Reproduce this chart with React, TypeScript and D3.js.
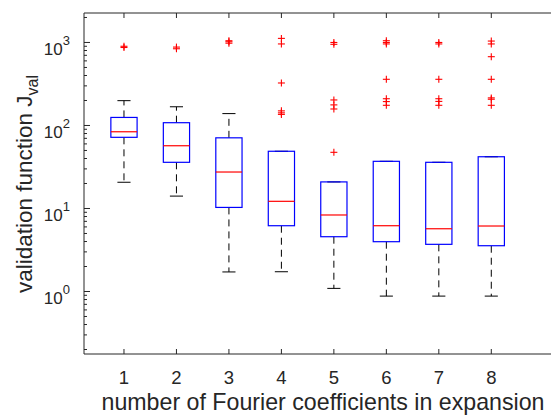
import React from "react";
import * as d3 from "d3";

const groups = [1, 2, 3, 4, 5, 6, 7, 8];
const whiskerHigh = [199, 168, 139, 48.9, 20.9, 37, 36, 42];
const q3 = [125, 108, 71, 48.9, 20.9, 37, 36, 42];
const medians = [84, 57, 27.5, 12.2, 8.35, 6.2, 5.7, 6.15];
const q1 = [72, 36, 10.3, 6.2, 4.57, 3.98, 3.7, 3.56];
const whiskerLow = [20.7, 14.1, 1.72, 1.73, 1.09, 0.88, 0.88, 0.88];
const outliers = [
  [870, 900],
  [840, 880],
  [980, 1020, 1050],
  [960, 1120, 325, 150, 142, 136],
  [950, 1000, 203, 177, 158, 47.5],
  [960, 1000, 1050, 360, 210, 194, 175],
  [960, 1000, 360, 210, 195, 175],
  [960, 1040, 674, 360, 215, 207, 175],
];
const yMajor = [1, 10, 100, 1000];
const yExp = ["0", "1", "2", "3"];
const xLabel = "number of Fourier coefficients in expansion";
const yLabelMain = "validation function J";
const yLabelSub = "val";

const W = 551;
const H = 415;
const left = 84;
const top = 13;
const bottom = 354;
const right = 570;
const FONT = "'Liberation Sans', Arial, Helvetica, sans-serif";
const AX = "#262626";

export default function App() {
  const x = d3.scaleLinear().domain([1 - 40 / 52.5, 9.5]).range([left, right]);
  const y = d3.scaleLog().domain([Math.pow(10, -0.753), Math.pow(10, 3.355)]).range([bottom, top]);
  const bw = x(1.25) - x(1);
  const cw = x(1.125) - x(1);
  const [d0, d1] = y.domain();
  const minor: number[] = [];
  for (let e = -1; e <= 3; e++) {
    for (let m = 2; m <= 9; m++) {
      const v = m * Math.pow(10, e);
      if (v > d0 && v < d1) minor.push(v);
    }
  }
  return (
    <svg width={W} height={H} style={{ position: "absolute", left: 0, top: 0 }} fontFamily={FONT}>
      <rect x={0} y={0} width={W} height={H} fill="#fff" />
      {groups.map((g, i) => {
        const cx = x(g);
        return (
          <g key={g}>
            <line x1={cx} x2={cx} y1={y(q3[i])} y2={y(whiskerHigh[i])} stroke="#000" strokeDasharray="7,5" />
            <line x1={cx} x2={cx} y1={y(q1[i])} y2={y(whiskerLow[i])} stroke="#000" strokeDasharray="7,5" />
            <line x1={cx - cw} x2={cx + cw} y1={y(whiskerHigh[i])} y2={y(whiskerHigh[i])} stroke="#000" />
            <line x1={cx - cw} x2={cx + cw} y1={y(whiskerLow[i])} y2={y(whiskerLow[i])} stroke="#000" />
            <rect x={cx - bw} y={y(q3[i])} width={2 * bw} height={y(q1[i]) - y(q3[i])} fill="none" stroke="#0000ff" strokeWidth={1.2} />
            <line x1={cx - bw} x2={cx + bw} y1={y(medians[i])} y2={y(medians[i])} stroke="#ff0000" strokeWidth={1.2} />
            {outliers[i].map((v, j) => (
              <g key={j} stroke="#ff0000" strokeWidth={1.1}>
                <line x1={cx - 3.5} x2={cx + 3.5} y1={y(v)} y2={y(v)} />
                <line x1={cx} x2={cx} y1={y(v) - 3.5} y2={y(v) + 3.5} />
              </g>
            ))}
          </g>
        );
      })}
      <line x1={left} x2={right} y1={top} y2={top} stroke={AX} />
      <line x1={left} x2={right} y1={bottom} y2={bottom} stroke={AX} />
      <line x1={left} x2={left} y1={top} y2={bottom} stroke={AX} />
      {groups.map((g) => (
        <g key={g}>
          <line x1={x(g)} x2={x(g)} y1={bottom} y2={bottom - 5} stroke={AX} />
          <line x1={x(g)} x2={x(g)} y1={top} y2={top + 5} stroke={AX} />
          <text x={x(g)} y={bottom + 29.5} textAnchor="middle" fontSize={18.5} fill={AX}>{g}</text>
        </g>
      ))}
      {minor.map((v, i) => (
        <line key={i} x1={left} x2={left + 3} y1={y(v)} y2={y(v)} stroke={AX} />
      ))}
      {yMajor.map((v, i) => (
        <g key={v}>
          <line x1={left} x2={left + 6} y1={y(v)} y2={y(v)} stroke={AX} />
          <text x={left - 14} y={y(v) + 13} textAnchor="end" fontSize={17} fill={AX}>
            10<tspan dy={-10} fontSize={13}>{yExp[i]}</tspan>
          </text>
        </g>
      ))}
      <text x={323} y={410} textAnchor="middle" fontSize={23.2} fill={AX}>{xLabel}</text>
      <text transform={`translate(32,184) rotate(-90)`} textAnchor="middle" fontSize={22.5} fill={AX}>
        {yLabelMain}
        <tspan dy={6} fontSize={16}>{yLabelSub}</tspan>
      </text>
    </svg>
  );
}
